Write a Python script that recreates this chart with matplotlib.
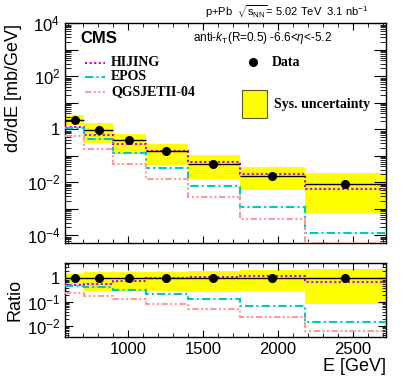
import numpy as np
import matplotlib
matplotlib.use("Agg")
import matplotlib.pyplot as plt
from matplotlib.ticker import LogLocator, MultipleLocator, FuncFormatter, NullFormatter
from matplotlib.patches import Rectangle
from matplotlib.lines import Line2D

plt.rcParams['font.family'] = ['Liberation Sans', 'DejaVu Sans']
plt.rcParams['mathtext.fontset'] = 'custom'
plt.rcParams['mathtext.rm'] = 'Liberation Sans'
plt.rcParams['mathtext.it'] = 'Liberation Sans:italic'
plt.rcParams['mathtext.bf'] = 'Liberation Sans:bold'

# bins and values
edges = [580, 710, 900, 1120, 1400, 1750, 2180, 2720]
e_pts = [645, 807, 1007, 1255, 1569, 1960, 2445]
data = [2.32, 0.975, 0.386, 0.155, 0.051, 0.017, 0.0083]
sys_hi = [3.57, 1.74, 0.69, 0.28, 0.105, 0.039, 0.0216]
sys_lo = [1.40, 0.30, 0.119, 0.047, 0.0136, 0.0050, 0.00072]
hijing = [1.19, 0.596, 0.288, 0.158, 0.0596, 0.0214, 0.00575]
epos = [1.13, 0.421, 0.129, 0.0339, 0.00724, 0.00117, 0.000120]
qgsjet = [0.579, 0.183, 0.0513, 0.0132, 0.00275, 0.000407, 0.0000505]

edges = np.array(edges, float)
e_pts = np.array(e_pts, float)
data = np.array(data)
sys_hi = np.array(sys_hi)
sys_lo = np.array(sys_lo)

c_hij = '#cc00cc'
c_epos = '#00c8c8'
c_qgs = '#ff9a9a'
ls_hij = (0, (1, 1.2))
ls_epos = (0, (4, 1.5, 1, 1.5))
ls_qgs = (0, (3, 1.2, 1, 1.2, 1, 1.2))
lw_mod = 1.5

fig = plt.figure(figsize=(4.07, 3.88), dpi=100)
ax = fig.add_axes([0.1597, 0.3729, 0.7887, 0.567])
rx = fig.add_axes([0.1597, 0.1322, 0.7887, 0.1907])


def log_fmt(v, pos, show=(0, 2, 4, -2, -4)):
    e = int(round(np.log10(v)))
    if e not in show:
        return ''
    if e == 0:
        return '1'
    return r'$10^{%d}$' % e


def draw(a, d, lo, hi, models):
    for i in range(len(d)):
        a.add_patch(Rectangle((edges[i], lo[i]), edges[i + 1] - edges[i], hi[i] - lo[i],
                              facecolor='#ffff00', edgecolor='none', zorder=1))
    for vals, c, ls in models:
        a.stairs(vals, edges, baseline=None, color=c, ls=ls, lw=lw_mod, zorder=3)
    a.errorbar(e_pts, d, xerr=[e_pts - edges[:-1], edges[1:] - e_pts], fmt='o',
               color='black', ms=5.5, lw=1.0, capsize=0, zorder=5)
    a.set_xlim(edges[0], edges[-1])
    a.xaxis.set_major_locator(MultipleLocator(500))
    a.xaxis.set_minor_locator(MultipleLocator(100))
    a.set_yscale('log')
    a.tick_params(which='both', direction='in', top=True, right=True, labelsize=12)
    for s in a.spines.values():
        s.set_linewidth(1.0)


draw(ax, data, sys_lo, sys_hi,
     [(hijing, c_hij, ls_hij), (epos, c_epos, ls_epos), (qgsjet, c_qgs, ls_qgs)])
ax.set_ylim(10 ** -4.3, 1e4)
ax.yaxis.set_major_locator(LogLocator(base=10, numticks=20))
ax.yaxis.set_minor_locator(LogLocator(base=10, subs=np.arange(2, 10), numticks=20))
ax.yaxis.set_major_formatter(FuncFormatter(log_fmt))
ax.yaxis.set_minor_formatter(NullFormatter())
ax.tick_params(axis='y', which='major', length=9)
ax.tick_params(axis='y', which='minor', length=4.5)
ax.tick_params(axis='x', which='major', length=5)
ax.tick_params(axis='x', which='minor', length=3)
ax.set_xticklabels([])
ax.set_ylabel(r'd$\sigma$/dE [mb/GeV]', fontsize=13, labelpad=2, loc='top')

r_hij = np.array(hijing) / data
r_epos = np.array(epos) / data
r_qgs = np.array(qgsjet) / data
draw(rx, np.ones_like(data), sys_lo / data, sys_hi / data,
     [(r_hij, c_hij, ls_hij), (r_epos, c_epos, ls_epos), (r_qgs, c_qgs, ls_qgs)])
rx.set_ylim(0.0035, 4.6)
rx.yaxis.set_major_locator(LogLocator(base=10, numticks=20))
rx.yaxis.set_minor_locator(LogLocator(base=10, subs=np.arange(2, 10), numticks=20))
rx.yaxis.set_major_formatter(FuncFormatter(lambda v, p: log_fmt(v, p, show=(0, -1, -2))))
rx.yaxis.set_minor_formatter(NullFormatter())
rx.tick_params(axis='y', which='major', length=6)
rx.tick_params(axis='y', which='minor', length=3)
rx.tick_params(axis='x', which='major', length=5)
rx.tick_params(axis='x', which='minor', length=3)
rx.set_ylabel('Ratio', fontsize=13, labelpad=2)
rx.set_xlabel('E [GeV]', fontsize=13, loc='right', labelpad=1)

# legend, drawn by hand like the ROOT one
leg_font = dict(family=['Liberation Serif', 'DejaVu Serif'], weight='bold', fontsize=10,
                va='center', transform=ax.transAxes)
for y, name, c, ls in [(0.82, 'HIJING', c_hij, ls_hij), (0.756, 'EPOS', c_epos, ls_epos),
                       (0.688, 'QGSJETII-04', c_qgs, ls_qgs)]:
    ax.add_line(Line2D([0.062, 0.125], [y, y], color=c, ls=ls, lw=lw_mod, transform=ax.transAxes))
    ax.text(0.143, y, name, **leg_font)
ax.plot([0.586], [0.824], 'o', color='black', ms=5.5, transform=ax.transAxes)
ax.text(0.645, 0.824, 'Data', **leg_font)
ax.add_patch(Rectangle((0.551, 0.569), 0.078, 0.128, facecolor='#ffff00',
                       edgecolor='#555533', lw=0.8, transform=ax.transAxes))
ax.text(0.651, 0.629, 'Sys. uncertainty', **leg_font)

ax.text(0.047, 0.933, 'CMS', fontsize=12, weight='bold', va='center', transform=ax.transAxes)
ax.text(0.40, 0.933, r'anti-$\mathit{k}_{\mathrm{T}}$(R=0.5) -6.6<$\eta$<-5.2', fontsize=8.5,
        va='center', transform=ax.transAxes)
fig.text(0.504, 0.969, r'p+Pb  $\sqrt{\mathrm{s}_{\mathrm{NN}}}$= 5.02 TeV  3.1 nb$^{-1}$',
         fontsize=8, va='center')

fig.savefig('out.png', dpi=100)
